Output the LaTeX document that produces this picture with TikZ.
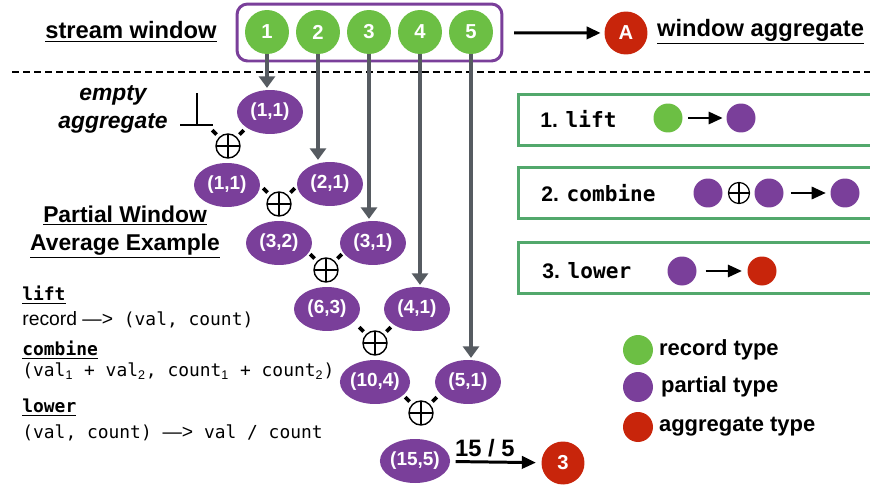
\documentclass[tikz,border=0pt]{standalone}
\usepackage{fontspec}
\setmainfont{Liberation Sans}
\setmonofont{DejaVu Sans Mono}
\usetikzlibrary{shapes.geometric,arrows.meta}
\definecolor{recgreen}{HTML}{6CBF44}
\definecolor{partpurple}{HTML}{7A3F9A}
\definecolor{aggred}{HTML}{C8250B}
\definecolor{boxgreen}{HTML}{52A86C}
\definecolor{feedgray}{HTML}{565B61}
\newcommand{\sub}[1]{\textsubscript{\rmfamily #1}}
\tikzset{
	heading/.style={font=\fontsize{13.5}{16.5}\selectfont\bfseries,inner sep=1pt},
	rec/.style={circle,fill=recgreen,text=white,minimum size=0.88cm,inner sep=0pt,font=\fontsize{11.5}{11.5}\selectfont\bfseries},
	agg/.style={circle,fill=aggred,text=white,minimum size=0.86cm,inner sep=0pt,font=\fontsize{11.5}{11.5}\selectfont\bfseries},
	part/.style={ellipse,fill=partpurple,text=white,minimum width=1.32cm,minimum height=0.88cm,inner sep=0pt,font=\fontsize{10.8}{10.8}\selectfont\bfseries},
	dot/.style={circle,minimum size=0.58cm,inner sep=0pt},
	combo/.style={circle,draw,line width=0.8pt,minimum size=0.48cm,inner sep=0pt,
		path picture={\draw[line width=0.8pt] (path picture bounding box.north) -- (path picture bounding box.south) (path picture bounding box.west) -- (path picture bounding box.east);}},
	tick/.style={line width=2.2pt},
	feed/.style={feedgray,line width=2.4pt,-{Triangle[length=6.5pt,width=9pt]}},
	blk/.style={line width=1.7pt,-{Triangle[length=8pt,width=7pt]}},
	opbox/.style={draw=boxgreen,line width=1.7pt,minimum width=8cm,minimum height=1.02cm},
	code/.style={font=\fontsize{10.2}{12}\selectfont\ttfamily,inner sep=0pt}
}

\begin{document}
\begin{tikzpicture}[x=0.02cm,y=-0.02cm]
	\useasboundingbox (0,0) rectangle (870,487);
	%TOP ROW
	\node[heading] (sw) at (131,32) {\underline{stream window}};
	\node[draw=partpurple,line width=1.7pt,rounded corners=6pt,minimum width=5.3cm,minimum height=1.14cm] (win) at (369.5,32.5) {};
	\foreach \i/\x in {1/267,2/318,3/369,4/420,5/471} \node[rec] (c\i) at (\x,32) {\i};
	\node[agg] (A) at (626,33) {A};
	\draw[blk,shorten <=6pt,shorten >=2pt] (win) -- (A);
	\node[heading,anchor=west] (wa) at (655,32) {\underline{window aggregate}};
	\draw[line width=1.2pt,dash pattern=on 4pt off 2.3pt] (12,72) -- (870,72);

	%TREE
	\node[part] (p0) at (270,112) {(1,1)};
	\node[part] (p1) at (227,185) {(1,1)};
	\node[part] (p2) at (330,184) {(2,1)};
	\node[part] (p3) at (279,243) {(3,2)};
	\node[part] (p4) at (373,243) {(3,1)};
	\node[part] (p5) at (327,309) {(6,3)};
	\node[part] (p6) at (417,309) {(4,1)};
	\node[part] (p7) at (375,382) {(10,4)};
	\node[part] (p8) at (468,382) {(5,1)};
	\node[part] (p9) at (415,461) {(15,5)};
	\node[combo] (o1) at (228,146) {};
	\node[combo] (o2) at (279,204) {};
	\node[combo] (o3) at (326,270) {};
	\node[combo] (o4) at (375,343) {};
	\node[combo] (o5) at (421,413) {};
	\foreach \o in {o1,o2,o3,o4,o5} {
		\draw[tick] (\o.135) ++(135:2pt) -- ++(135:3.5pt);
		\draw[tick] (\o.45) ++(45:2pt) -- ++(45:3.5pt);
	}
	\foreach \i/\p in {1/p0,2/p2,3/p4,4/p6,5/p8} \draw[feed] (c\i.south) -- ([yshift=1pt]c\i.south |- \p.north);
	%
	\node[agg] (res) at (563,463) {3};
	\draw[blk,shorten <=3pt,shorten >=3pt] (p9) -- node[heading,pos=0.38,above,inner sep=2pt] (q) {15 / 5} (res);

	%EMPTY AGGREGATE
	\node[heading,align=center,font=\fontsize{13}{16}\selectfont\bfseries\itshape] (ea) at (113,109) {empty\\aggregate};
	\coordinate (bot) at (197,125);
	\draw[line width=1.2pt] (197,93) -- (bot) (180,125) -- (213,125);

	%LEFT TEXT
	\node[heading,align=center,font=\fontsize{13}{16}\selectfont\bfseries] (ex) at (125,232) {\underline{Partial Window}\\\underline{Average Example}};
	\node[code,anchor=west,font=\fontsize{10.2}{12}\selectfont\ttfamily\bfseries] (l1) at (22,295) {\underline{lift}};
	\node[code,anchor=west] (l2) at (22,320) {{\rmfamily\fontsize{11}{12}\selectfont record —>} (val, count)};
	\node[code,anchor=west,font=\fontsize{10.2}{12}\selectfont\ttfamily\bfseries] (l3) at (22,350) {\underline{combine}};
	\node[code,anchor=west] (l4) at (22,371) {(val\sub{1} + val\sub{2}, count\sub{1} + count\sub{2})};
	\node[code,anchor=west,font=\fontsize{10.2}{12}\selectfont\ttfamily\bfseries] (l5) at (22,408) {\underline{lower}};
	\node[code,anchor=west] (l6) at (22,433) {(val, count) {\rmfamily\fontsize{11}{12}\selectfont —>} val / count};

	%RIGHT BOXES
	\node[opbox,anchor=west] (b1) at (517,120) {};
	\node[anchor=west,inner sep=0pt,font=\fontsize{12}{14}\selectfont\bfseries] (t1) at (540,119) {1. \texttt{lift}};
	\node[dot,fill=recgreen] (d1) at (668,118) {};
	\node[dot,fill=partpurple] (d2) at (741,118) {};
	\draw[blk,line width=1.3pt,shorten <=3pt,shorten >=2pt] (d1) -- (d2);
	%
	\node[opbox,anchor=west] (b2) at (517,193) {};
	\node[anchor=west,inner sep=0pt,font=\fontsize{12}{14}\selectfont\bfseries] (t2) at (541,193) {2. \texttt{combine}};
	\node[dot,fill=partpurple] (d3) at (708,193) {};
	\node[combo,minimum size=0.42cm,line width=0.7pt] (d4) at (739,193) {};
	\node[dot,fill=partpurple] (d5) at (769,193) {};
	\node[dot,fill=partpurple] (d6) at (845,193) {};
	\draw[blk,line width=1.3pt,shorten <=4pt,shorten >=2.5pt] (d5) -- (d6);
	%
	\node[opbox,anchor=west] (b3) at (517,268) {};
	\node[anchor=west,inner sep=0pt,font=\fontsize{12}{14}\selectfont\bfseries] (t3) at (542,271) {3. \texttt{lower}};
	\node[dot,fill=partpurple] (d7) at (682,271) {};
	\node[dot,fill=aggred] (d8) at (762,271) {};
	\draw[blk,line width=1.3pt,shorten <=5pt,shorten >=3pt] (d7) -- (d8);

	%LEGEND
	\node[dot,minimum size=0.6cm,fill=recgreen] (g1) at (638,350) {};
	\node[dot,minimum size=0.6cm,fill=partpurple] (g2) at (638,387) {};
	\node[dot,minimum size=0.6cm,fill=aggred] (g3) at (638,427) {};
	\node[heading,anchor=west,font=\fontsize{12.5}{15}\selectfont\bfseries] (k1) at (657,350) {record type};
	\node[heading,anchor=west,font=\fontsize{12.5}{15}\selectfont\bfseries] (k2) at (659,387) {partial type};
	\node[heading,anchor=west,font=\fontsize{12.5}{15}\selectfont\bfseries] (k3) at (657,427) {aggregate type};
\end{tikzpicture}
\end{document}
